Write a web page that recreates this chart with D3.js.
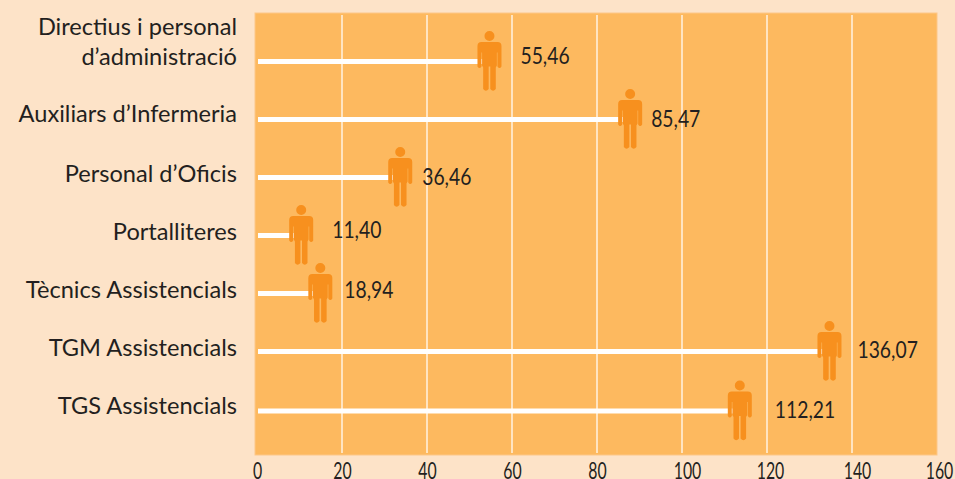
<!DOCTYPE html>
<meta charset="utf-8">
<style>

html, body {
  margin: 0;
  background: #fde3c8;
  overflow: hidden;
}

text {
  font-family: Lato, "Open Sans", sans-serif;
  fill: #231f20;
}

.cat {
  font-size: 23.6px;
  text-anchor: end;
}

.val {
  font-size: 23px;
}

.tick text {
  font-size: 24px;
}

</style>
<body>
<script src="https://d3js.org/d3.v7.min.js"></script>
<script>

var categories = [
	["Directius i personal", "d\u2019administració"],
	["Auxiliars d\u2019Infermeria"],
	["Personal d\u2019Oficis"],
	["Portalliteres"],
	["Tècnics Assistencials"],
	["TGM Assistencials"],
	["TGS Assistencials"]
];

// the printed figures
var values = [55.46, 85.47, 36.46, 11.40, 18.94, 136.07, 112.21];

// where the bars really stop on the axis, they don't agree with the figures
var barEnds = [54.7, 87.8, 33.7, 10.4, 14.9, 134.7, 113.6];

var xTicks = [0, 20, 40, 60, 80, 100, 120, 140, 160];

var width = 955,
	height = 479,
	svg = d3.select("body").append("svg")
		.attr("width", width)
		.attr("height", height)
		.style("display", "block");

var x = d3.scaleLinear().domain([0, 160]).range([257, 937]);

var rows = d3.scalePoint()
	.domain(d3.range(categories.length))
	.range([61.5, 409.5]);

// last row sits a little lower in the original
function y(i) {
	return rows(i) + (i == categories.length - 1 ? 1.5 : 0);
}

var comma = d3.formatLocale({decimal: ",", thousands: ".", grouping: [3], currency: ["", ""]}).format(".2f");

svg.append("rect")
	.attr("x", 255)
	.attr("y", 13)
	.attr("width", 682)
	.attr("height", 442)
	.attr("fill", "#fdb95f")
	.attr("stroke", "#fdc788")
	.attr("stroke-width", 1);

// grid
svg.selectAll(".grid")
	.data(xTicks.slice(1, -1))
	.enter().append("line")
	.attr("class", "grid")
	.attr("x1", x)
	.attr("x2", x)
	.attr("y1", 15)
	.attr("y2", 453)
	.attr("stroke", "#fff3e2")
	.attr("stroke-width", 1.5);

// bars
svg.selectAll(".bar")
	.data(barEnds)
	.enter().append("rect")
	.attr("class", "bar")
	.attr("x", x(0) + 1)
	.attr("y", function(d, i) { return y(i) - 2.5; })
	.attr("width", function(d) { return x(d) - x(0) - 1; })
	.attr("height", 5)
	.attr("fill", "#fff");

// little man, drawn around his own centre
var man = d3.path();
man.moveTo(-8, -19.5);
man.lineTo(8, -19.5);
man.quadraticCurveTo(12, -19.5, 12, -15.5);
man.lineTo(12, 5);
man.quadraticCurveTo(10, 8, 8, 5);
man.lineTo(8, -9);
man.lineTo(7.4, -9);
man.lineTo(7.4, 4);
man.lineTo(6.3, 6);
man.lineTo(6.3, 27.5);
man.quadraticCurveTo(3.6, 31, 0.8, 27.5);
man.lineTo(0.8, 5);
man.lineTo(-0.8, 5);
man.lineTo(-0.8, 27.5);
man.quadraticCurveTo(-3.6, 31, -6.3, 27.5);
man.lineTo(-6.3, 6);
man.lineTo(-7.4, 4);
man.lineTo(-7.4, -9);
man.lineTo(-8, -9);
man.lineTo(-8, 5);
man.quadraticCurveTo(-10, 8, -12, 5);
man.lineTo(-12, -15.5);
man.quadraticCurveTo(-12, -19.5, -8, -19.5);
man.closePath();
man.moveTo(5, -25.5);
man.arc(0, -25.5, 5, 0, 2 * Math.PI);

svg.selectAll(".man")
	.data(barEnds)
	.enter().append("path")
	.attr("class", "man")
	.attr("d", man.toString())
	.attr("fill", "#f7901e")
	.attr("transform", function(d, i) { return "translate(" + x(d) + "," + y(i) + ")"; });

// figures sit by hand next to each man in the original
var valueDx = [31, 21, 22, 31, 24, 28, 35],
	valueDy = [2, 7, 7, 2.5, 4.5, 6.5, 7];

svg.selectAll(".val")
	.data(values)
	.enter().append("text")
	.attr("class", "val")
	.attr("transform", function(d, i) {
		return "translate(" + (x(barEnds[i]) + valueDx[i]) + "," + (y(i) + valueDy[i]) + ") scale(.84,1)";
	})
	.text(comma);

// category labels, baseline of last line
var catBase = [65, 122, 181.5, 240, 298, 355.5, 413.5];

svg.selectAll(".cat")
	.data(categories)
	.enter().append("text")
	.attr("class", "cat")
	.attr("y", function(d, i) { return catBase[i] - (d.length - 1) * 30; })
	.selectAll("tspan")
	.data(function(d) { return d; })
	.enter().append("tspan")
	.attr("x", 237)
	.attr("dy", function(d, i) { return i ? 30 : 0; })
	.text(function(d) { return d; });

// axis, the labels drift right of their gridlines further along
var tickNudge = [0, 0, 0, 0, 0, 5, 3, 5, 2];

var axis = svg.append("g")
	.attr("transform", "translate(0,455)")
	.call(d3.axisBottom(x).tickValues(xTicks).tickSize(0).tickPadding(0));

axis.select(".domain").remove();

axis.selectAll("text")
	.attr("y", 0)
	.attr("dy", 0)
	.attr("transform", function(d, i) { return "translate(" + tickNudge[i] + ",23.5) scale(.66,1)"; });

</script>
</body>
</html>
